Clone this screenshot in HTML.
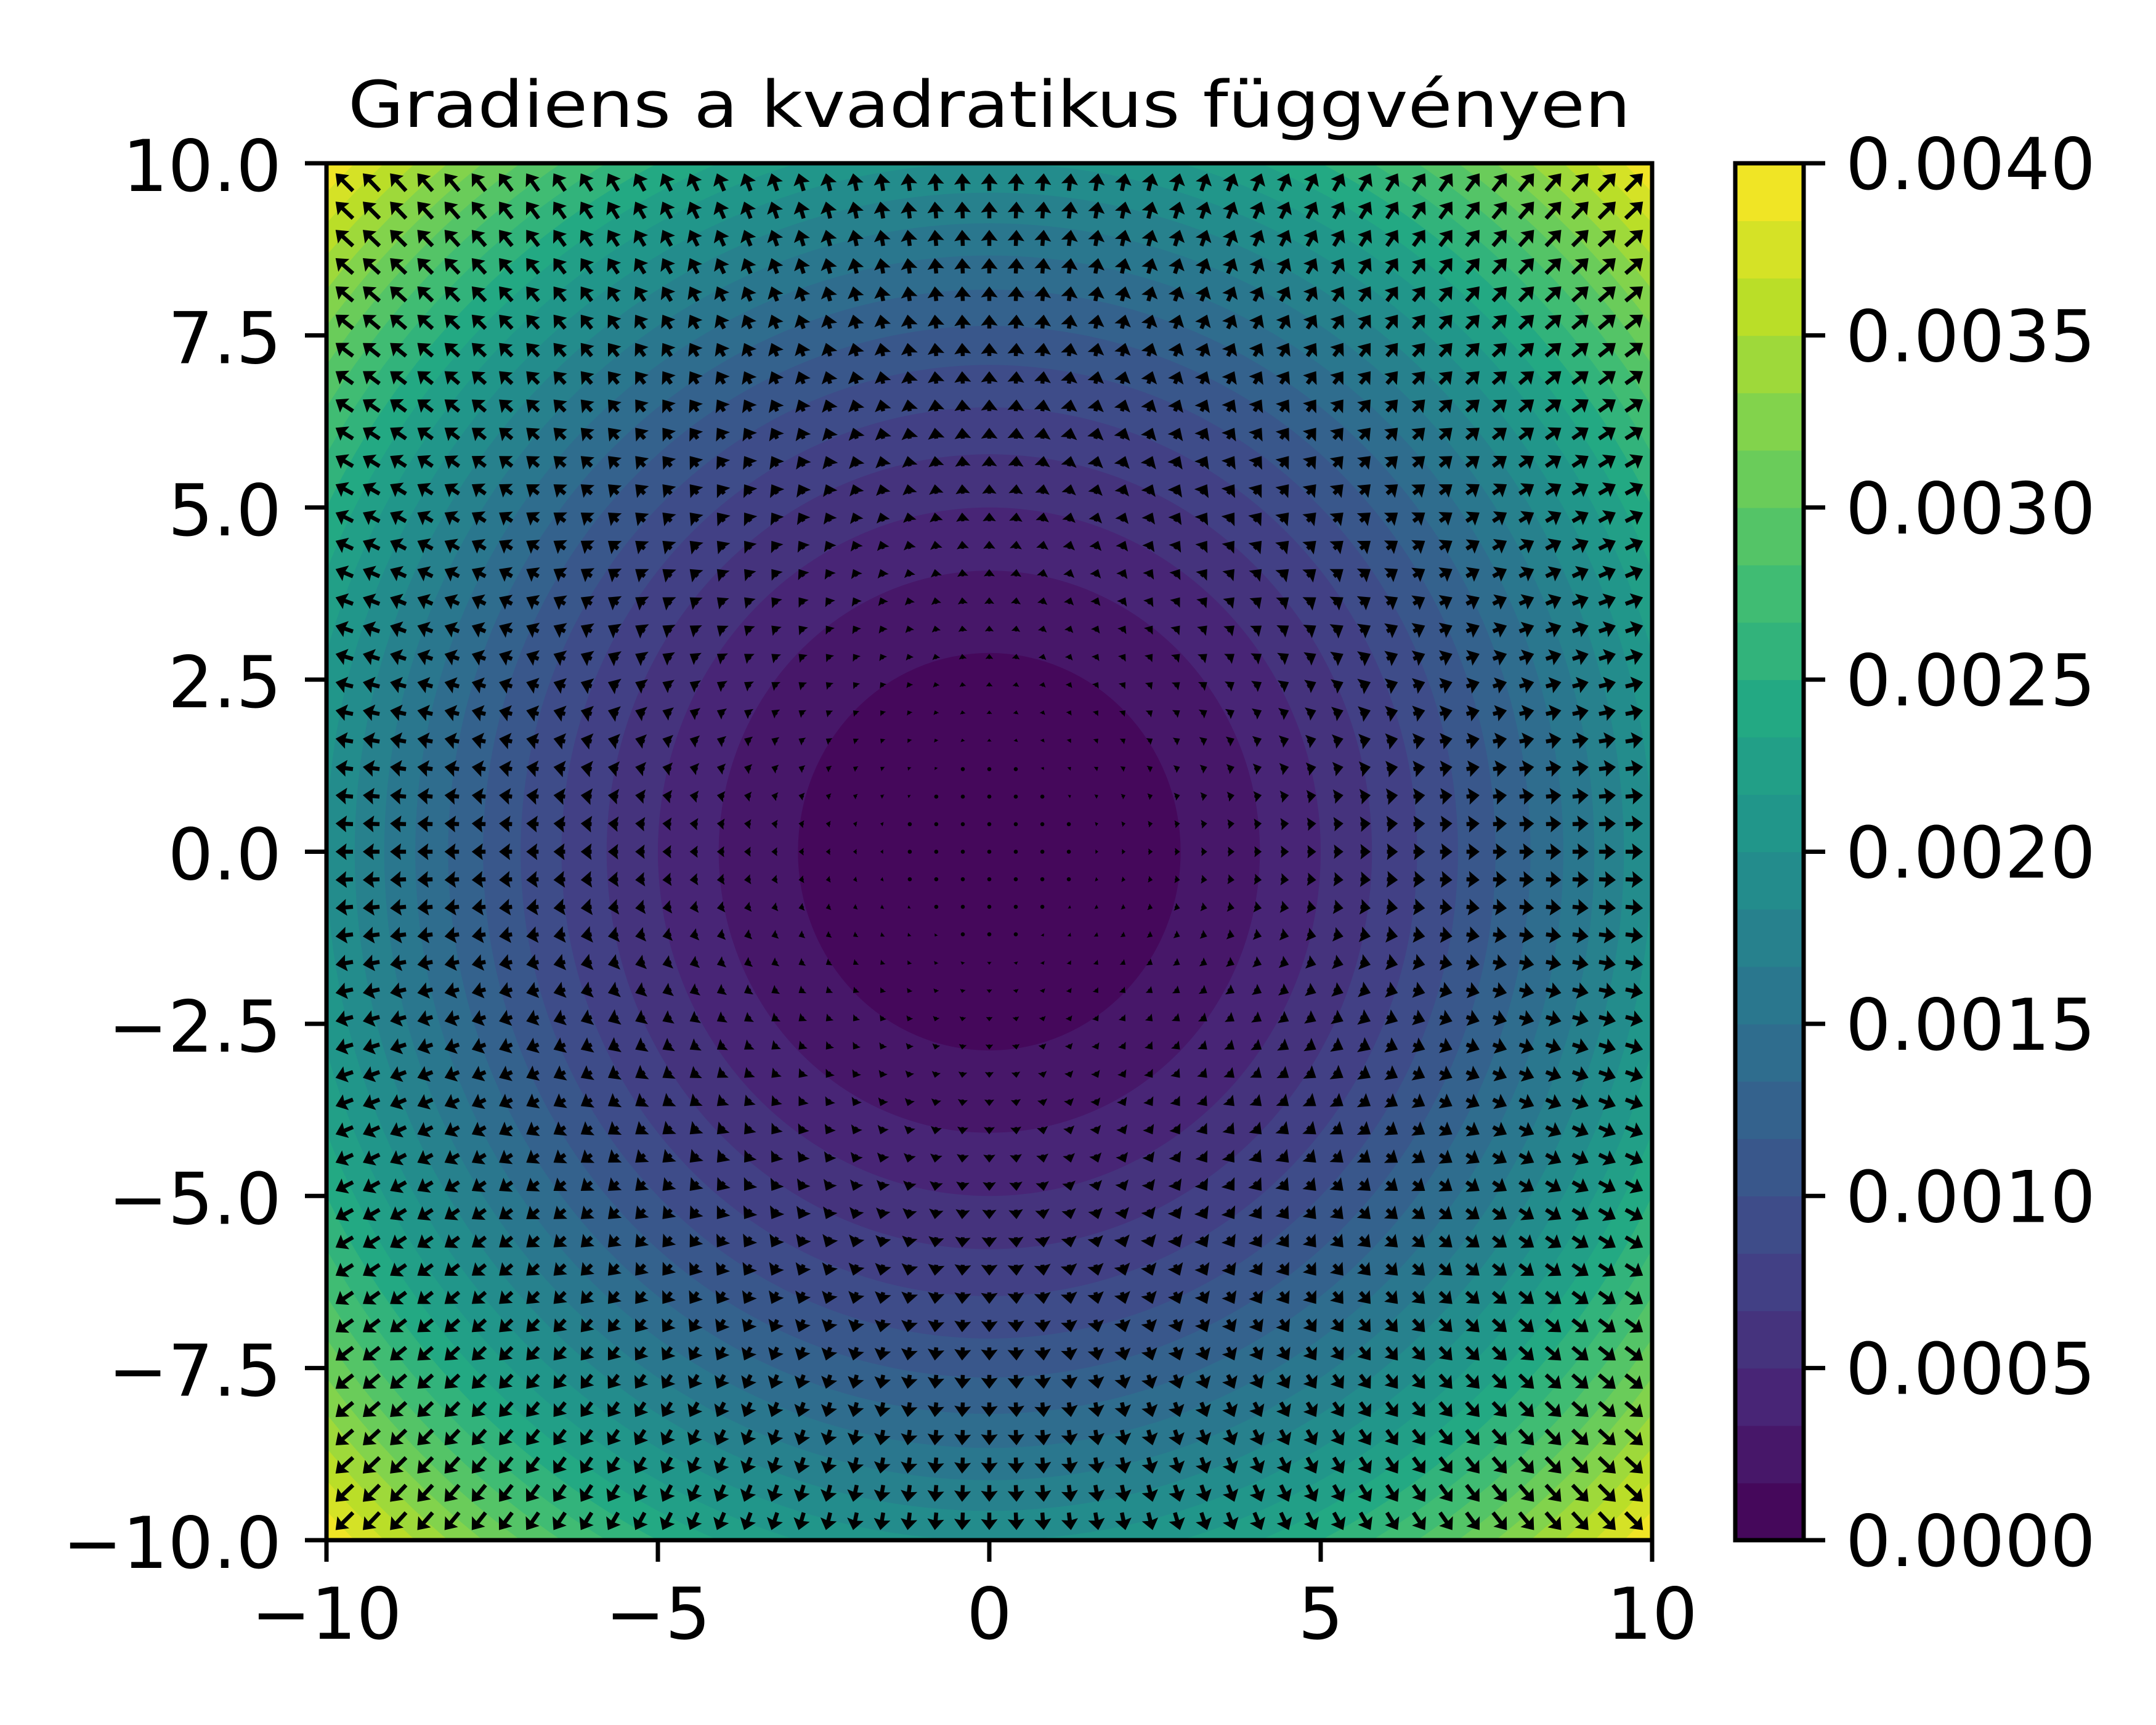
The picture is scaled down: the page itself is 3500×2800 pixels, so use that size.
<!DOCTYPE html>
<html><head><meta charset="utf-8"><style>
html,body{margin:0;padding:0;background:#fff;overflow:hidden;width:3500px;height:2800px;}
svg{display:block;font-family:"DejaVu Sans","Liberation Sans",sans-serif;}
</style></head><body>
<svg id="chart" width="3500" height="2800" viewBox="0 0 3500 2800" xmlns="http://www.w3.org/2000/svg">
<defs><clipPath id="axclip"><rect x="530" y="265" width="2152" height="2235"/></clipPath></defs>
<rect width="3500" height="2800" fill="#fff"/>
<text x="1606" y="206" font-size="104" text-anchor="middle" textLength="2082" lengthAdjust="spacingAndGlyphs">Gradiens a kvadratikus függvényen</text>
<g id="contours" clip-path="url(#axclip)"></g>
<g id="arrows" clip-path="url(#axclip)"></g>
<rect x="530" y="265" width="2152" height="2235" fill="none" stroke="#000" stroke-width="7"/>
<g id="xaxis"></g>
<g id="yaxis"></g>
<g id="cbar"></g>
</svg>
<script>
const xTicks=[-10,-5,0,5,10];
const yTicks=[-10,-7.5,-5,-2.5,0,2.5,5,7.5,10];
const yTickLabels=["\u221210.0","\u22127.5","\u22125.0","\u22122.5","0.0","2.5","5.0","7.5","10.0"];
const xTickLabels=["\u221210","\u22125","0","5","10"];
const cbTicks=[0,0.0005,0.001,0.0015,0.002,0.0025,0.003,0.0035,0.004];
const nLevels=24;
const levelMax=0.004;
const coef=0.00002;
const gridStart=-9.6, gridStep=0.4, gridN=49;

const AX={l:530,r:2682,t:265,b:2500};
const CB={l:2817,r:2928,t:265,b:2500};
const sx=v=>AX.l+(v+10)/20*(AX.r-AX.l);
const sy=v=>AX.b-(v+10)/20*(AX.b-AX.t);
const cy=v=>CB.b-v/levelMax*(CB.b-CB.t);
const NS="http://www.w3.org/2000/svg";
function mk(t,a,p){const e=document.createElementNS(NS,t);for(const k in a)e.setAttribute(k,a[k]);p.appendChild(e);return e;}
const vir=["#440154","#482475","#414487","#355f8d","#2a788e","#21918c","#22a884","#44bf70","#7ad151","#bddf26","#fde725"];
function viridis(t){t=Math.max(0,Math.min(1,t));const f=t*10,i=Math.min(9,Math.floor(f)),u=f-i;
const a=vir[i],b=vir[i+1];const c=j=>Math.round(parseInt(a.substr(j,2),16)*(1-u)+parseInt(b.substr(j,2),16)*u);
return `rgb(${c(1)},${c(3)},${c(5)})`;}

const cg=document.getElementById('contours');
const pxX=(AX.r-AX.l)/20, pxY=(AX.b-AX.t)/20;
for(let i=nLevels-1;i>=0;i--){
  const lvl=(i+1)*levelMax/nLevels;
  const r=Math.sqrt(lvl/coef);
  let e;
  if(i==nLevels-1){
    e=mk('rect',{x:AX.l,y:AX.t,width:AX.r-AX.l,height:AX.b-AX.t,fill:viridis((i+0.5)/nLevels)},cg);
  } else {
    e=mk('ellipse',{cx:sx(0),cy:sy(0),rx:r*pxX,ry:r*pxY,fill:viridis((i+0.5)/nLevels)},cg);
  }
  
  
}
const ag=document.getElementById('arrows');
const refR=Math.hypot(9.6,9.6), refLen=40;
const w=6.5, HL=5*w*0.55, HAL=4.5*w*0.55, HW=3*w*0.7;
for(let i=0;i<gridN;i++)for(let j=0;j<gridN;j++){
  const x=gridStart+gridStep*i, y=gridStart+gridStep*j;
  const gx=2*coef*x, gy=2*coef*y, m=Math.hypot(gx,gy);
  const L=refLen*m/(2*coef*refR);
  const X=sx(x), Y=sy(y);
  let p;
  if(L<w*0.6){
    p=mk('circle',{cx:X.toFixed(1),cy:Y.toFixed(1),r:3.3,fill:'#000'},ag);
  } else {
    const ang=Math.atan2(-gy,gx)*180/Math.PI;
    let s=1, Lf=L;
    if(L<HL){ s=L/HL; Lf=HL; }
    const hw=w/2;
    const d=`M0,${-hw} L${Lf-HAL},${-hw} L${Lf-HL},${-HW} L${Lf},0 L${Lf-HL},${HW} L${Lf-HAL},${hw} L0,${hw}Z`;
    p=mk('path',{d:d,fill:'#000',transform:`translate(${X.toFixed(1)},${Y.toFixed(1)}) rotate(${ang.toFixed(1)}) scale(${s.toFixed(3)})`},ag);
  }
  
  
}
const FS=116;
const xg=document.getElementById('xaxis');
xTicks.forEach((v,k)=>{
  const t=mk('line',{x1:sx(v),x2:sx(v),y1:AX.b,y2:AX.b+35,stroke:'#000','stroke-width':7},xg);
  
  const l=mk('text',{x:sx(v),y:2660,'font-size':FS,'text-anchor':'middle'},xg);l.textContent=xTickLabels[k];
  
});
const yg=document.getElementById('yaxis');
yTicks.forEach((v,k)=>{
  const t=mk('line',{x1:AX.l-35,x2:AX.l,y1:sy(v),y2:sy(v),stroke:'#000','stroke-width':7},yg);
  
  const l=mk('text',{x:457,y:sy(v)+45,'font-size':FS,'text-anchor':'end'},yg);l.textContent=yTickLabels[k];
  
});
const cbg=document.getElementById('cbar');
for(let i=0;i<nLevels;i++){
  const lo=i*levelMax/nLevels, hi=(i+1)*levelMax/nLevels;
  const r=mk('rect',{x:CB.l,y:cy(hi),width:CB.r-CB.l,height:cy(lo)-cy(hi)+0.8,fill:viridis((i+0.5)/nLevels)},cbg);
  
}
const cf=mk('rect',{x:CB.l,y:CB.t,width:CB.r-CB.l,height:CB.b-CB.t,fill:'none',stroke:'#000','stroke-width':7},cbg);

cbTicks.forEach(v=>{
  const t=mk('line',{x1:CB.r,x2:CB.r+35,y1:cy(v),y2:cy(v),stroke:'#000','stroke-width':7},cbg);
  
  const l=mk('text',{x:CB.r+68,y:cy(v)+42,'font-size':FS},cbg);l.textContent=v.toFixed(4);
  
});
</script>
</body></html>
